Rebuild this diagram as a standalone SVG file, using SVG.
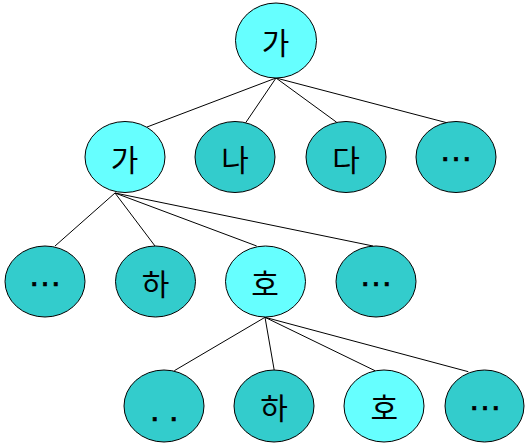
<svg xmlns="http://www.w3.org/2000/svg" width="525" height="443" viewBox="0 0 525 443">
  <style>
    .link { stroke: #000; stroke-width: 1; fill: none; }
    .node { stroke: #000; stroke-width: 1; }
    .hi { fill: #66FFFF; }
    .lo { fill: #33CCCC; }
    .ko { font-family: "Noto Sans CJK KR", "Noto Sans", sans-serif; font-size: 30px; fill: #000; text-anchor: middle; }
    .dots { font-family: "Liberation Sans", Arial, sans-serif; font-size: 34px; fill: #000; stroke: #000; stroke-width: 0.6; text-anchor: middle; }
  </style>
  <rect width="525" height="443" fill="#fff"/>

  <g id="connectors">
    <path class="link" d="M276 78L147 127M276 78L245.7 122.7M276 78L336.7 122.3M276 78L446.7 122.7"/>
    <path class="link" d="M115 193L55 246M115 193L155 246M115 193L256.7 246M115 193L373 246"/>
    <path class="link" d="M265 317.3L174.3 370.7M265 317.3L274.3 370.7M265 317.3L375 370.7M265 317.3L468.3 371.7"/>
  </g>

  <!-- root -->
  <g id="n-root">
    <ellipse class="node hi" cx="276" cy="40.5" rx="40.5" ry="37.5"/>
    <text class="ko" x="275.5" y="53.5">가</text>
  </g>

  <!-- second row -->
  <g id="n-ga">
    <ellipse class="node hi" cx="125" cy="157" rx="40" ry="35.5"/>
    <text class="ko" x="124.5" y="170.5">가</text>
  </g>
  <g id="n-na">
    <ellipse class="node lo" cx="235" cy="157" rx="40" ry="35.5"/>
    <text class="ko" x="235" y="170.5">나</text>
  </g>
  <g id="n-da">
    <ellipse class="node lo" cx="346" cy="157" rx="40" ry="35.5"/>
    <text class="ko" x="346" y="170.5">다</text>
  </g>
  <g id="n-more1">
    <ellipse class="node lo" cx="456" cy="157" rx="40" ry="35.5"/>
    <text class="dots" x="456" y="161">…</text>
  </g>

  <!-- third row -->
  <g id="n-more2">
    <ellipse class="node lo" cx="45" cy="281.5" rx="40" ry="35.5"/>
    <text class="dots" x="45" y="286">…</text>
  </g>
  <g id="n-ha">
    <ellipse class="node lo" cx="155.5" cy="281.5" rx="40" ry="35.5"/>
    <text class="ko" x="155.5" y="295">하</text>
  </g>
  <g id="n-ho">
    <ellipse class="node hi" cx="265.5" cy="281.5" rx="40" ry="35.5"/>
    <text class="ko" x="265" y="295">호</text>
  </g>
  <g id="n-more3">
    <ellipse class="node lo" cx="376" cy="281.5" rx="40" ry="35.5"/>
    <text class="dots" x="376" y="286">…</text>
  </g>

  <!-- fourth row -->
  <g id="n-dd">
    <ellipse class="node lo" cx="164" cy="406" rx="40" ry="36"/>
    <text class="dots" x="164.2" y="420.5">. .</text>
  </g>
  <g id="n-ha2">
    <ellipse class="node lo" cx="274" cy="406" rx="40" ry="36"/>
    <text class="ko" x="274" y="419">하</text>
  </g>
  <g id="n-ho2">
    <ellipse class="node hi" cx="384" cy="406" rx="40" ry="36"/>
    <text class="ko" x="384.3" y="418.5">호</text>
  </g>
  <g id="n-more4">
    <ellipse class="node lo" cx="484.5" cy="406" rx="39.5" ry="36"/>
    <text class="dots" x="485" y="410">…</text>
  </g>
</svg>
